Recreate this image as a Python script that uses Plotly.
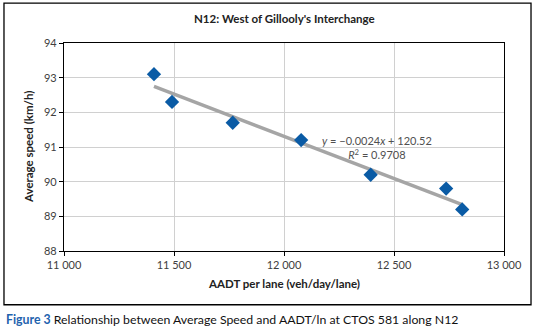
import numpy as np
import plotly.graph_objects as go

aadt = [11409, 11491, 11767, 12078, 12394, 12737, 12810]
speed = [93.1, 92.3, 91.7, 91.2, 90.2, 89.8, 89.2]
x_ticks = [11000, 11500, 12000, 12500, 13000]
x_ticklabels = ["11 000", "11 500", "12 000", "12 500", "13 000"]
y_ticks = [88, 89, 90, 91, 92, 93, 94]
title_text = "N12: West of Gillooly's Interchange"
eq_text = "<i>y</i> = −0.0024<i>x</i> + 120.52<br><i>R</i><sup>2</sup> = 0.9708"
caption_label = "Figure 3"
caption_text = "Relationship between Average Speed and AADT/ln at CTOS 581 along N12"

slope, intercept = np.polyfit(aadt, speed, 1)
tx = [min(aadt), max(aadt)]
ty = [slope * v + intercept for v in tx]

FONT = "Lato"
fig = go.Figure()
fig.add_trace(go.Scatter(x=tx, y=ty, mode="lines",
                         line=dict(color="#A5A5A5", width=3.5),
                         hoverinfo="skip", showlegend=False))
fig.add_trace(go.Scatter(x=aadt, y=speed, mode="markers",
                         marker=dict(symbol="diamond", size=11, color="#0A5BA5"),
                         showlegend=False))

axis_common = dict(showline=True, linecolor="black", linewidth=1.3, mirror=True,
                   showgrid=True, gridcolor="#D0D0D0", gridwidth=1,
                   ticks="outside", ticklen=4, tickcolor="black", zeroline=False,
                   automargin=False,
                   tickfont=dict(family=FONT, size=11, color="#404040"))
fig.update_xaxes(range=[11000, 13000], tickvals=x_ticks, ticktext=x_ticklabels, **axis_common)
fig.update_yaxes(range=[88, 94], tickvals=y_ticks, **axis_common)

fig.update_layout(
    width=536, height=334,
    margin=dict(l=64, r=32, t=43, b=83),
    paper_bgcolor="white", plot_bgcolor="white",
    font=dict(family=FONT, color="#222"),
    shapes=[dict(type="rect", xref="paper", yref="paper",
                 x0=-0.1364, x1=1.0614, y0=-0.2584, y1=1.1915,
                 line=dict(color="black", width=1.3), layer="below")],
    annotations=[
        dict(text="<b>" + title_text + "</b>", xref="paper", yref="paper",
             x=0.5, y=1.1196, showarrow=False, font=dict(family=FONT, size=11.5, color="#222"),
             xanchor="center", yanchor="middle"),
        dict(text="<b>Average speed (km/h)</b>", xref="paper", yref="paper",
             x=-0.0818, y=0.5, textangle=-90, showarrow=False,
             font=dict(family=FONT, size=11.5, color="#222"), xanchor="center", yanchor="middle"),
        dict(text="<b>AADT per lane (veh/day/lane)</b>", xref="paper", yref="paper",
             x=0.5, y=-0.158, showarrow=False,
             font=dict(family=FONT, size=11.5, color="#222"), xanchor="center", yanchor="middle"),
        dict(text=eq_text, x=12424, y=90.98, xref="x", yref="y", showarrow=False,
             font=dict(family=FONT, size=11, color="#505050"), align="center",
             xanchor="center", yanchor="middle"),
        dict(text="<b><span style='color:#1F63AE'>" + caption_label + "</span></b> " + caption_text,
             xref="paper", yref="paper", x=-0.1364, y=-0.330, showarrow=False,
             font=dict(family=FONT, size=12.3, color="#111"), xanchor="left", yanchor="middle"),
    ],
)
fig.write_html("out.html", config={"displayModeBar": False},
               post_script="document.body.style.margin='0';document.body.style.overflow='hidden';")
